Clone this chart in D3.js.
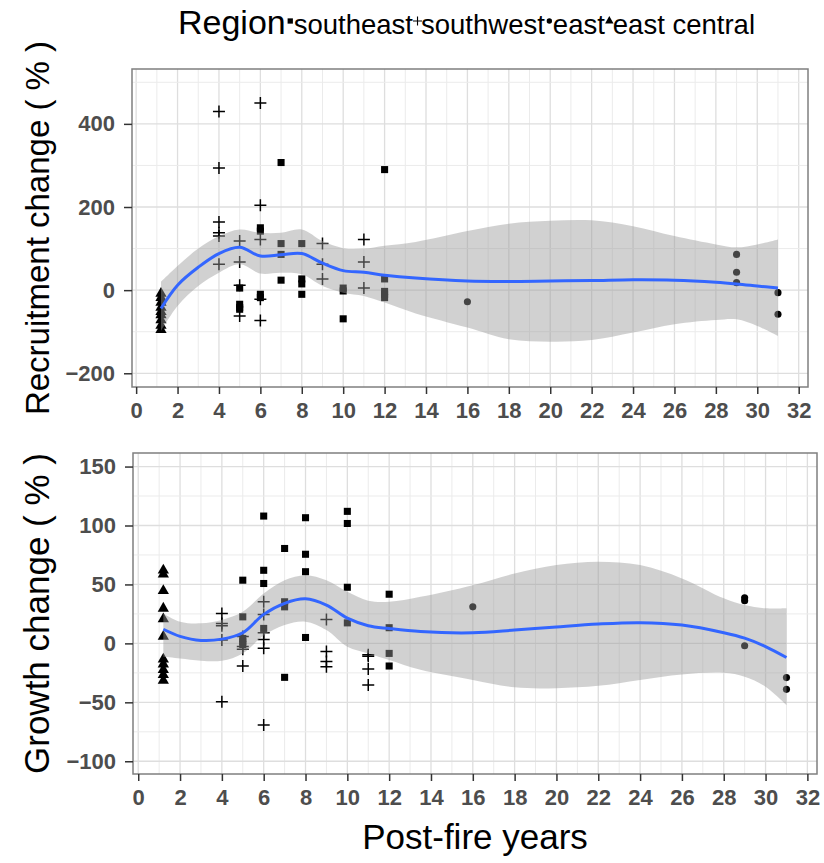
<!DOCTYPE html>
<html>
<head>
<meta charset="utf-8">
<script src="https://cdn.jsdelivr.net/npm/d3@7"></script>
<style>
  body { margin: 0; background: #fff; }
  svg text { font-family: "Liberation Sans", Arial, sans-serif; }
  .tick line { stroke: #333; stroke-width: 1.5; }
  .domain { display: none; }
</style>
</head>
<body>
<svg id="chart" width="824" height="863"></svg>
<script>
// region legend
var regions = ['southeast', 'southwest', 'east', 'east central'];

// smoother grid (post-fire years)
var fitYears = [1.2, 2, 3, 4, 5, 6, 7, 8, 9, 10, 11, 12, 13.5, 16, 18, 20, 22, 24, 26, 28, 29, 30, 31];

// recruitment change (%)
var recruitFit   = [-44, 12, 55, 88, 103, 82, 85, 88, 65, 47, 43, 36, 29, 22, 21, 22, 23, 25, 24, 19, 15, 10, 5];
var recruitUpper = [20, 58, 100, 130, 146, 138, 138, 146, 118, 101, 100, 107, 116, 142, 160, 167, 168, 154, 130, 110, 103, 110, 122];
var recruitLower = [-98, -38, 10, 42, 62, 40, 42, 38, 10, -6, -14, -30, -56, -90, -118, -124, -120, -102, -82, -72, -70, -86, -110];

var recruitSoutheast = [[5, 5], [5, -34], [5, -42], [5, -46], [6, 150], [6, 142], [6, -10], [6, -18],
  [7, 307], [7, 112], [7, 86], [7, 24], [8, 112], [8, 27], [8, 15], [8, -10], [10, 5], [10, -2], [10, -69],
  [12, 290], [12, 27], [12, -3], [12, -10], [12, -18]];
var recruitSouthwest = [[4, 430], [4, 294], [4, 164], [4, 138], [4, 130], [4, 62], [5, 118], [5, 68], [5, 12], [5, -62],
  [6, 450], [6, 204], [6, 122], [6, -22], [6, -73], [9, 112], [9, 62], [9, 27], [11, 122], [11, 68], [11, 5]];
var recruitEast = [[16, -28], [29, 86], [29, 43], [29, 18], [31, -6], [31, -58]];
var recruitEastCentral = [[1.2, -8], [1.2, -18], [1.2, -30], [1.2, -42], [1.2, -52], [1.2, -60], [1.2, -72], [1.2, -85], [1.2, -95]];

// growth change (%)
var growthFit   = [12, 6, 2.5, 3.6, 9, 24.6, 34, 37.8, 32.5, 21.4, 15, 12.6, 10, 9, 11.3, 14, 16.4, 17.5, 15.5, 9, 4.4, -2.7, -12];
var growthUpper = [25.4, 18.4, 17, 19.9, 26.8, 42.3, 53.6, 57.9, 53.6, 43.7, 36.2, 35.3, 39.5, 49.4, 59.3, 66.4, 69.2, 66.4, 55.1, 38.2, 32.5, 29.7, 29.7];
var growthLower = [-11.4, -12.8, -14.7, -14.7, -8.5, 6.6, 15.5, 18.4, 11.3, -2.8, -8.5, -14, -22.4, -31, -37.3, -38, -36, -31, -26.3, -24.9, -28.2, -36.7, -52.3];

var growthSoutheast = [[5, 53.6], [5, 22.5], [5, 4.2], [5, 1.4], [5, -1], [6, 108], [6, 62], [6, 50.8], [6, 12.7],
  [7, 80.5], [7, 35.3], [7, 31], [7, -28.8], [8, 106.6], [8, 75.6], [8, 60.8], [8, 5],
  [10, 112], [10, 101.7], [10, 47.6], [10, 17.4], [12, 41.7], [12, 13.3], [12, -8.5], [12, -19.2]];
var growthSouthwest = [[4, 25.4], [4, 16.9], [4, 15], [4, 2.8], [4, -49.5], [5, 5.8], [5, -2.7], [5, -5], [5, -19.2],
  [6, 35.3], [6, 24.6], [6, 9], [6, 3.4], [6, -4.2], [6, -69.2], [9, 20.3], [9, -6.8], [9, -15.3], [9, -19.8],
  [11, -9.6], [11, -11], [11, -21.8], [11, -35.3]];
var growthEast = [[16, 31], [29, 38.7], [29, 36.2], [29, -2], [31, -29], [31, -39]];
var growthEastCentral = [[1.2, 62], [1.2, 58.7], [1.2, 44.6], [1.2, 29.7], [1.2, 20.7], [1.2, 5.8], [1.2, -13.4],
  [1.2, -17.6], [1.2, -22.4], [1.2, -26.6], [1.2, -31.4]];

var xTicks = d3.range(0, 33, 2);
var xGrid = d3.range(0, 33, 1);

var svg = d3.select('#chart');

var shapes = {
    'southeast': d3.symbol().type(d3.symbolSquare),
    'east': d3.symbol().type(d3.symbolCircle),
    'east central': d3.symbol().type(d3.symbolTriangle)
};

function drawMark(g, region, px, py, scale) {
    if (region === 'southwest') {
        var a = 6 * scale;
        g.append('path')
            .attr('d', 'M' + (px - a) + ',' + py + 'H' + (px + a) + 'M' + px + ',' + (py - a) + 'V' + (py + a))
            .attr('stroke', '#000')
            .attr('stroke-width', 1.5 * scale)
            .attr('fill', 'none');
    } else {
        var size = { 'southeast': 50, 'east': 40, 'east central': 55 }[region] * scale * scale;
        g.append('path')
            .attr('d', shapes[region].size(size)())
            .attr('transform', 'translate(' + px + ',' + py + ')')
            .attr('fill', '#000');
    }
}

function styleTicks(sel) {
    sel.selectAll('text')
        .attr('fill', '#4d4d4d')
        .style('font-size', '22px')
        .style('font-weight', 'bold')
        .style('font-family', '"Liberation Sans", Arial, sans-serif');
}

function drawPanel(opt) {
    var x = d3.scaleLinear().domain(opt.xDomain).range(opt.xRange);
    var y = d3.scaleLinear().domain(opt.yDomain).range(opt.yRange);
    var g = svg.append('g');

    // grid
    g.selectAll('.vgrid').data(xGrid).enter().append('line')
        .attr('x1', d => x(d)).attr('x2', d => x(d))
        .attr('y1', opt.yRange[0]).attr('y2', opt.yRange[1])
        .attr('stroke', d => d % 2 === 0 ? '#dedede' : '#ebebeb')
        .attr('stroke-width', d => d % 2 === 0 ? 1.3 : 1);
    g.selectAll('.hgrid').data(opt.yGrid).enter().append('line')
        .attr('x1', opt.xRange[0]).attr('x2', opt.xRange[1])
        .attr('y1', d => y(d)).attr('y2', d => y(d))
        .attr('stroke', d => opt.yTicks.indexOf(d) >= 0 ? '#dedede' : '#ebebeb')
        .attr('stroke-width', d => opt.yTicks.indexOf(d) >= 0 ? 1.3 : 1);

    // points
    var series = [['southeast', opt.se], ['southwest', opt.sw], ['east', opt.east], ['east central', opt.ec]];
    series.forEach(function (s) {
        s[1].forEach(function (p) {
            drawMark(g, s[0], x(p[0]), y(p[1]), 1);
        });
    });

    // confidence band and smoother
    var band = fitYears.map((t, i) => ({ t: t, lo: opt.lower[i], hi: opt.upper[i], fit: opt.fit[i] }));
    g.append('path')
        .datum(band)
        .attr('d', d3.area().curve(d3.curveCatmullRom.alpha(0.5))
            .x(d => x(d.t)).y0(d => y(d.lo)).y1(d => y(d.hi)))
        .attr('fill', '#999999')
        .attr('fill-opacity', 0.45);
    g.append('path')
        .datum(band)
        .attr('d', d3.line().curve(d3.curveCatmullRom.alpha(0.5)).x(d => x(d.t)).y(d => y(d.fit)))
        .attr('fill', 'none')
        .attr('stroke', '#3366FF')
        .attr('stroke-width', 3);

    // border
    g.append('rect')
        .attr('x', opt.xRange[0]).attr('y', opt.yRange[1])
        .attr('width', opt.xRange[1] - opt.xRange[0])
        .attr('height', opt.yRange[0] - opt.yRange[1])
        .attr('fill', 'none').attr('stroke', '#7f7f7f').attr('stroke-width', 1.5);

    // axes
    g.append('g')
        .attr('transform', 'translate(0,' + opt.yRange[0] + ')')
        .call(d3.axisBottom(x).tickValues(xTicks).tickSize(7).tickPadding(8).tickFormat(d3.format('d')))
        .call(styleTicks);
    g.append('g')
        .attr('transform', 'translate(' + opt.xRange[0] + ',0)')
        .call(d3.axisLeft(y).tickValues(opt.yTicks).tickSize(8).tickPadding(9).tickFormat(d3.format('d')))
        .call(styleTicks);

    // y title
    g.append('text')
        .attr('transform', 'translate(' + opt.titleX + ',' + (opt.yRange[0] + opt.yRange[1]) / 2 + ') rotate(-90)')
        .attr('text-anchor', 'middle')
        .attr('font-size', opt.titleSize)
        .attr('fill', '#000')
        .text(opt.title);
}

drawPanel({
    xDomain: [-0.2, 32.45], xRange: [132, 808],
    yDomain: [-233, 532], yRange: [387, 69],
    yTicks: [-200, 0, 200, 400], yGrid: d3.range(-200, 501, 100),
    fit: recruitFit, upper: recruitUpper, lower: recruitLower,
    se: recruitSoutheast, sw: recruitSouthwest, east: recruitEast, ec: recruitEastCentral,
    title: 'Recruitment change ( % )', titleX: 49, titleSize: 33
});

drawPanel({
    xDomain: [-0.25, 32.46], xRange: [133, 817],
    yDomain: [-110.8, 161.5], yRange: [774, 453],
    yTicks: [-100, -50, 0, 50, 100, 150], yGrid: d3.range(-100, 151, 25),
    fit: growthFit, upper: growthUpper, lower: growthLower,
    se: growthSoutheast, sw: growthSouthwest, east: growthEast, ec: growthEastCentral,
    title: 'Growth change ( % )', titleX: 49, titleSize: 35
});

// x title
svg.append('text')
    .attr('x', 475).attr('y', 849)
    .attr('text-anchor', 'middle')
    .attr('font-size', 35)
    .text('Post-fire years');

// legend
var legend = svg.append('g');
var title = legend.append('text')
    .attr('x', 178).attr('y', 34)
    .attr('font-size', 34)
    .text('Region');
var cx = 178 + title.node().getComputedTextLength();
regions.forEach(function (r) {
    drawMark(legend, r, cx + 4.5, 21, 0.75);
    var t = legend.append('text')
        .attr('x', cx + 8).attr('y', 34)
        .attr('font-size', 27.5)
        .text(r);
    cx = cx + 8 + t.node().getComputedTextLength();
});
</script>
</body>
</html>
